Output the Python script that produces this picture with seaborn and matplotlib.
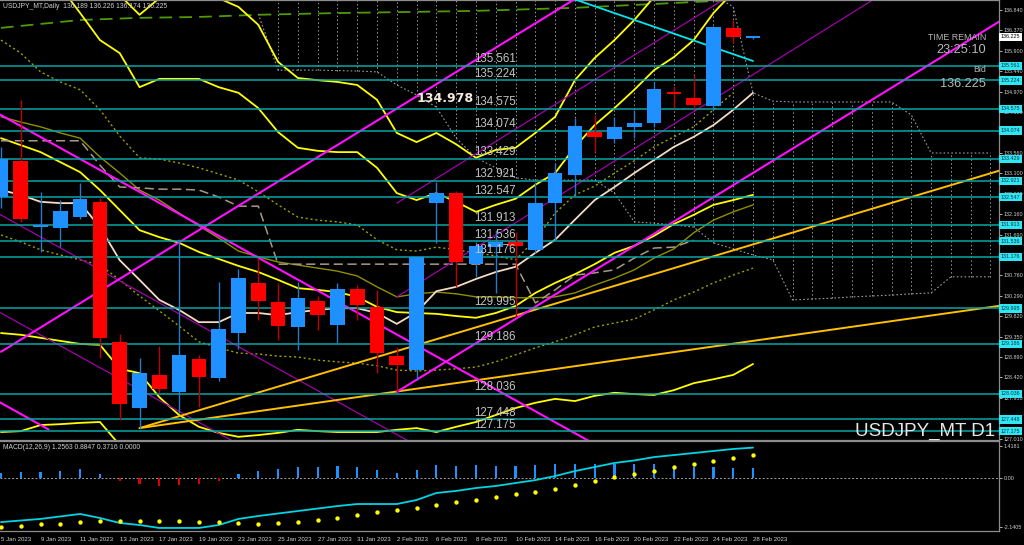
import matplotlib
matplotlib.use("Agg")
import matplotlib.pyplot as plt
import matplotlib.transforms as mtransforms
import seaborn as sns

# ---------------- data ----------------
dates = ["5 Jan 2023", "6 Jan 2023", "9 Jan 2023", "10 Jan 2023", "11 Jan 2023", "12 Jan 2023",
         "13 Jan 2023", "16 Jan 2023", "17 Jan 2023", "18 Jan 2023", "19 Jan 2023", "20 Jan 2023",
         "23 Jan 2023", "24 Jan 2023", "25 Jan 2023", "26 Jan 2023", "27 Jan 2023", "30 Jan 2023",
         "31 Jan 2023", "1 Feb 2023", "2 Feb 2023", "3 Feb 2023", "6 Feb 2023", "7 Feb 2023",
         "8 Feb 2023", "9 Feb 2023", "10 Feb 2023", "13 Feb 2023", "14 Feb 2023", "15 Feb 2023",
         "16 Feb 2023", "17 Feb 2023", "20 Feb 2023", "21 Feb 2023", "22 Feb 2023", "23 Feb 2023",
         "24 Feb 2023", "27 Feb 2023", "28 Feb 2023"]

opens = [132.55, 133.38, 131.86, 131.84, 132.09, 132.44, 129.23, 127.71, 128.47, 128.08, 128.84, 128.40,
         129.43, 130.58, 130.14, 129.57, 130.17, 129.62, 130.44, 130.03, 128.90, 128.58, 132.41, 132.64,
         131.01, 131.40, 131.52, 131.33, 132.41, 133.06, 134.04, 133.88, 134.16, 134.25, 134.94, 134.82,
         134.64, 136.43, 136.189]
highs = [133.70, 134.78, 132.67, 132.48, 132.87, 132.53, 129.41, 128.86, 129.13, 131.59, 128.92, 130.60,
         130.90, 131.15, 130.58, 130.60, 130.28, 130.58, 130.53, 130.42, 129.11, 131.20, 132.89, 132.69,
         131.52, 131.79, 131.75, 132.89, 133.33, 134.36, 134.43, 134.39, 134.55, 135.19, 135.10, 135.35,
         136.47, 136.60, 136.226]
lows = [132.30, 131.98, 131.29, 131.40, 132.05, 128.86, 127.44, 127.23, 128.06, 127.60, 127.73, 128.33,
        129.07, 129.73, 129.27, 129.04, 129.50, 129.20, 129.73, 128.51, 128.08, 128.35, 131.50, 130.49,
        130.72, 130.35, 129.80, 131.27, 131.57, 132.55, 133.58, 133.79, 133.90, 134.16, 134.60, 134.58,
        134.55, 136.08, 136.174]
closes = [133.42, 132.05, 131.91, 132.23, 132.50, 129.32, 127.80, 128.51, 128.15, 128.93, 128.42, 129.52,
          130.69, 130.17, 129.59, 130.23, 129.84, 130.44, 130.07, 128.97, 128.70, 131.17, 132.64, 131.06,
          131.43, 131.52, 131.43, 132.41, 133.10, 134.18, 133.93, 134.16, 134.25, 135.03, 134.91, 134.66,
          136.45, 136.23, 136.225]

levels = [135.561, 135.224, 134.575, 134.074, 133.429, 132.921, 132.547, 131.913, 131.536, 131.176,
          129.995, 129.186, 128.036, 127.448, 127.175]

price_ticks = [136.840, 136.370, 135.900, 135.440, 134.970, 134.500, 134.030, 133.560, 133.100, 132.630,
               132.160, 131.690, 131.220, 130.760, 130.290, 129.820, 129.350, 128.890, 128.420, 127.950,
               127.480, 127.010]
# tick labels that sit under a level box in the reference
hidden_ticks = [134.030, 131.220, 127.480]

# indicator lines (values per bar)
band_outer_up_start = 6
band_outer_up = [137.18, 136.73, 137.11, 137.30, 137.25, 137.11, 136.91, 136.50, 135.65, 135.28, 135.23,
                 135.19, 135.12, 134.78, 134.02, 133.81, 134.02, 133.76, 133.45, 133.63, 133.68, 134.02,
                 134.39, 135.23, 135.74, 136.15, 136.61, 137.14]
band_inner_up_start = 3
band_inner_up = [137.37, 136.77, 136.15, 135.85, 135.07, 135.26, 135.26, 135.26, 135.07, 134.94, 134.59,
                 134.04, 133.68, 133.61, 133.58, 133.58, 133.22, 132.64, 132.48, 132.64, 132.44, 132.21,
                 132.37, 132.51, 132.83, 133.10, 133.70, 134.20, 134.59, 135.01, 135.46, 135.76, 136.15,
                 136.77, 137.25]
slow_ma = [133.90, 133.74, 133.58, 133.35, 133.12, 132.71, 132.25, 131.79, 131.63, 131.50, 131.29, 131.13,
           130.97, 130.83, 130.65, 130.46, 130.42, 130.37, 130.26, 130.03, 129.91, 129.89, 129.87, 129.82,
           129.78, 129.89, 130.05, 130.35, 130.58, 130.78, 131.01, 131.27, 131.43, 131.66, 131.93, 132.14,
           132.37, 132.48, 132.60]
band_low = [129.43, 129.39, 129.32, 129.25, 129.18, 129.16, 128.61, 128.51, 127.96, 127.55, 127.28, 127.14,
            127.05, 127.09, 127.14, 127.21, 127.18, 127.16, 127.16, 127.16, 127.21, 127.25, 127.16, 127.28,
            127.39, 127.55, 127.71, 127.83, 127.92, 127.87, 127.99, 128.06, 128.03, 128.01, 128.12, 128.28,
            128.37, 128.47, 128.72]
band_low2 = [127.16, 127.18, 127.32, 127.34, 127.37, 127.39, 126.86]
fast_ma = [132.71, 132.60, 132.44, 132.41, 132.41, 131.86, 131.10, 130.65, 130.19, 129.96, 129.68, 129.68,
           129.89, 129.89, 129.84, 129.91, 129.96, 130.00, 130.00, 129.89, 129.64, 129.91, 130.39, 130.49,
           130.67, 130.83, 130.95, 131.27, 131.57, 132.03, 132.48, 132.78, 133.10, 133.40, 133.70, 133.93,
           134.20, 134.55, 134.94]
olive_ma = [134.39, 134.27, 134.16, 134.02, 133.90, 133.47, 133.10, 132.71, 132.48, 132.18, 131.89, 131.61,
            131.31, 131.18, 131.06, 130.99, 130.92, 130.85, 130.74, 130.49, 130.26, 130.33, 130.37, 130.33,
            130.26, 130.26, 130.24, 130.24, 130.26, 130.35, 130.53, 130.69, 130.88, 131.15, 131.36, 131.73,
            132.02, 132.21, 132.37]
kijun = [133.84, 133.84, 133.84, 133.84, 133.84, 133.28, 132.78, 132.76, 132.73, 132.73, 132.71, 132.55,
         132.34, 132.34, 131.01, 131.01, 131.01, 131.01, 131.01, 131.01, 131.01, 131.01, 131.01, 131.01,
         131.01, 131.01, 131.01, 130.12, 130.42, 130.76, 130.81, 130.88, 131.15, 131.38, 131.40, 131.56]
dot_upper = [136.15, 135.85, 135.42, 135.19, 135.01, 134.55, 133.95, 133.45, 133.42, 133.33, 133.22, 133.08,
             132.94, 132.67, 132.37, 132.09, 132.02, 131.98, 131.91, 131.57, 131.34, 131.31, 131.40, 131.34,
             131.27, 131.20, 131.11, 131.57, 132.18, 132.60, 132.80, 133.10, 133.38, 133.70, 133.93, 134.16,
             134.55, 134.94]
dot_lower = [131.68, 131.52, 131.34, 131.22, 131.11, 130.99, 130.65, 130.28, 129.94, 129.59, 129.23, 129.09,
             128.97, 128.95, 128.90, 128.88, 128.81, 128.77, 128.74, 128.68, 128.58, 128.56, 128.58, 128.61,
             128.65, 128.77, 128.93, 129.09, 129.23, 129.39, 129.57, 129.66, 129.75, 129.96, 130.19, 130.37,
             130.58, 130.76, 130.92]
green_x = [0, 4, 7, 10, 13, 17, 20, 24, 29, 34, 38, 51]
green_y = [136.43, 136.61, 136.66, 136.68, 136.73, 136.77, 136.79, 136.82, 136.89, 137.00, 137.09, 137.25]

# ichimoku cloud (bar 14 .. 50, extends into the future)
cloud_start = 14
cloud_top = [137.6] * 22 + [137.18, 136.91, 134.94, 134.75, 134.73, 134.73, 134.73, 134.73, 134.73, 134.73,
                            134.43, 133.56, 133.56, 133.56, 133.56]
cloud_bottom = [135.46, 135.46, 135.46, 135.45, 135.44, 135.42, 135.12, 134.89, 134.61, 133.90, 133.45,
                133.22, 132.99, 132.94, 132.94, 132.94, 132.94, 132.64, 131.98, 131.95, 131.91, 131.86,
                131.50, 131.36, 131.22, 131.11, 130.19, 130.21, 130.23, 130.26, 130.28, 130.30, 130.33,
                130.35, 130.72, 130.72, 130.72]

# trend lines (two anchor points each: bar index, price)
magenta_thick = [([0, 30], [129.00, 137.37]), ([-1, 31], [134.68, 126.63]),
                 ([20, 51], [128.08, 136.73]), ([-1, 2.4], [128.08, 127.22])]
purple_thin = [([-1, 21], [132.39, 126.85]), ([-1, 12], [130.14, 126.88]),
               ([20, 37], [132.41, 137.22]), ([20, 45], [130.26, 137.34])]
gold_lines = [([7, 51], [127.25, 133.23]), ([7, 51], [127.25, 130.09])]
cyan_line = ([28, 38], [137.24, 135.67])

# MACD panel
macd_hist = [0.25, 0.28, 0.28, 0.34, 0.41, 0.19, -0.12, -0.25, -0.35, -0.30, -0.25, -0.12, 0.18, 0.32, 0.40,
             0.49, 0.52, 0.54, 0.52, 0.37, 0.25, 0.37, 0.59, 0.56, 0.59, 0.56, 0.54, 0.60, 0.65, 0.65, 0.65,
             0.65, 0.62, 0.62, 0.56, 0.52, 0.49, 0.45, 0.45]
macd_line = [-1.94, -1.87, -1.80, -1.69, -1.58, -1.76, -1.98, -2.07, -2.20, -2.20, -2.20, -2.07, -1.80, -1.67,
             -1.56, -1.45, -1.34, -1.23, -1.14, -1.14, -1.14, -0.96, -0.65, -0.56, -0.43, -0.34, -0.21, -0.08,
             0.10, 0.32, 0.50, 0.68, 0.79, 0.94, 1.03, 1.12, 1.21, 1.30, 1.36]
macd_signal = [-2.14, -2.10, -2.04, -2.01, -1.95, -1.89, -1.88, -1.88, -1.88, -1.89, -1.92, -1.95, -1.98,
               -2.01, -1.98, -1.92, -1.85, -1.75, -1.63, -1.49, -1.40, -1.30, -1.18, -1.06, -0.95, -0.84,
               -0.71, -0.59, -0.46, -0.30, -0.12, 0.04, 0.18, 0.34, 0.49, 0.62, 0.75, 0.90, 1.03]
macd_ticks = [1.4181, 0.0, -2.1405]
macd_tick_labels = ["1.4181", "0.00", "-2.1405"]

title_text = "USDJPY_MT,Daily  136.189 136.226 136.174 136.225"
macd_text = "MACD(12,26,9) 1.2563 0.8847 0.3716 0.0000"
bid_price = 136.225

# ---------------- style ----------------
sns.set_theme(style="dark")
plt.rcParams['font.family'] = ['Liberation Sans', 'DejaVu Sans']
plt.rcParams['axes.facecolor'] = 'black'
plt.rcParams['figure.facecolor'] = 'black'
plt.rcParams['patch.edgecolor'] = 'none'

BLUE = '#1e90ff'
RED = '#ff0000'
GRAY = '#8c8c8c'
TXT = '#d0d0d0'

fig = plt.figure(figsize=(10.24, 5.45), dpi=100)
fig.patch.set_facecolor('black')
ax = fig.add_axes([0, 1 - 440 / 545, 999 / 1024, 440 / 545])
axm = fig.add_axes([0, 1 - 531 / 545, 999 / 1024, 90 / 545], sharex=ax)
for a in (ax, axm):
    a.set_facecolor('black')
    a.grid(False)
    for s in a.spines.values():
        s.set_color(GRAY)
        s.set_linewidth(0.9)
    a.spines['left'].set_visible(False)

n = len(dates)
idx = list(range(n))


def draw(a, x, y, **kw):
    sns.lineplot(x=x, y=y, ax=a, estimator=None, sort=False, legend=False, **kw)


# ichimoku cloud hatch
cidx = list(range(cloud_start, cloud_start + len(cloud_top)))
for i, t, b in zip(cidx, cloud_top, cloud_bottom):
    ax.vlines(i, b, t, color='#9a9a9a', lw=0.7, linestyles=(0, (1.5, 2.5)), zorder=1)
draw(ax, [13] + cidx, [136.75] + cloud_bottom, color='#9a9a9a', lw=0.8, linestyle=(0, (1.5, 2)), zorder=1)
draw(ax, cidx, cloud_top, color='#9a9a9a', lw=0.8, linestyle=(0, (1.5, 2)), zorder=1)

# indicator lines
draw(ax, green_x, green_y, color='#4e9a06', lw=1.3, linestyle=(0, (7, 4)), zorder=2)
draw(ax, list(range(band_outer_up_start, band_outer_up_start + len(band_outer_up))), band_outer_up,
     color='#ffff00', lw=1.3, zorder=2)
draw(ax, list(range(band_inner_up_start, band_inner_up_start + len(band_inner_up))), band_inner_up,
     color='#ffff00', lw=1.3, zorder=2)
draw(ax, idx, slow_ma, color='#ffff00', lw=1.3, zorder=2)
draw(ax, idx, band_low, color='#ffff00', lw=1.3, zorder=2)
draw(ax, list(range(len(band_low2))), band_low2, color='#ffff00', lw=1.3, zorder=2)
draw(ax, idx, olive_ma, color='#8f8f00', lw=1.0, zorder=2)
draw(ax, list(range(len(kijun))), kijun, color='#a89888', lw=1.1, linestyle=(0, (6, 3)), zorder=2)
draw(ax, list(range(len(dot_upper))), dot_upper, color='#a0a000', lw=1.0, linestyle=(0, (1.5, 2)), zorder=2)
draw(ax, idx, dot_lower, color='#a0a000', lw=1.0, linestyle=(0, (1.5, 2)), zorder=2)
draw(ax, idx, fast_ma, color='#f2dcc4', lw=1.3, zorder=3)

for xs, ys in purple_thin:
    draw(ax, xs, ys, color='#a000a8', lw=0.9, zorder=2)
for xs, ys in gold_lines:
    draw(ax, xs, ys, color='#ffc000', lw=1.4, zorder=2)
for xs, ys in magenta_thick:
    draw(ax, xs, ys, color='#ff10ff', lw=1.5, zorder=3)
draw(ax, cyan_line[0], cyan_line[1], color='#00e8f0', lw=1.3, zorder=3)

# horizontal levels and their labels
for lv in levels:
    ax.axhline(lv, color='#0aa5a5', lw=1.1, zorder=3)
    ax.text(26.0, lv + 0.01, f"{lv:.3f}", color='#c4c4c4', fontsize=8.3, ha='right', va='bottom', zorder=6)

# candles
for i, (o, h, l, c) in enumerate(zip(opens, highs, lows, closes)):
    up = c >= o
    ax.vlines(i, l, h, color='#2a78c8' if up else '#c00000', lw=1.0, zorder=4)
    ax.bar(i, max(abs(c - o), 0.045), bottom=min(o, c), width=0.74,
           color=BLUE if up else RED, linewidth=0, edgecolor='none', zorder=5)

# annotations
ax.text(21.0, 134.82, "134.978", color='#f5ebdc', fontsize=9.1, fontweight='bold',
        family='DejaVu Sans', ha='left', va='center', zorder=7)
ax.text(0.003, 0.986, title_text, transform=ax.transAxes, color=TXT, fontsize=4.9, ha='left', va='center')
ax.text(0.987, 1 - 37.5 / 440, "TIME REMAIN", transform=ax.transAxes, color='#b8b8b8', fontsize=6.4,
        ha='right', va='center')
ax.text(0.987, 1 - 50 / 440, "23:25:10", transform=ax.transAxes, color='#b8b8b8', fontsize=9.2,
        ha='right', va='center')
ax.text(0.987, 1 - 69 / 440, "Bid", transform=ax.transAxes, color='#b8b8b8', fontsize=6.4,
        ha='right', va='center')
ax.text(0.987, 1 - 84 / 440, f"{bid_price:.3f}", transform=ax.transAxes, color='#b8b8b8', fontsize=9.2,
        ha='right', va='center')
ax.text(0.996, 1 - 436 / 440, "USDJPY_MT D1", transform=ax.transAxes, color='#e6e6e6', fontsize=13.5,
        ha='right', va='baseline')

# axes ranges
ax.set_xlim(-1 / 19.79, 998 / 19.79)
ax.set_ylim(126.977, 137.069)
ax.set_xlabel("")
ax.set_ylabel("")
ax.yaxis.tick_right()
ax.set_yticks(price_ticks)
ax.set_yticklabels(["" if t in hidden_ticks else f"{t:.3f}" for t in price_ticks])
ax.tick_params(axis='y', colors=TXT, labelsize=3.9, length=2, width=0.6, pad=1.5, direction='out')
ax.tick_params(axis='x', bottom=False, labelbottom=False)

# right axis label boxes
trans = mtransforms.blended_transform_factory(ax.transAxes, ax.transData)
for lv in levels:
    ax.text(1.002, lv, f"{lv:.3f}", transform=trans, color='#003848', fontsize=3.9, ha='left', va='center',
            bbox=dict(boxstyle='square,pad=0.3', fc='#30e6f2', ec='none'), clip_on=False, zorder=10)
ax.text(1.002, bid_price, f"{bid_price:.3f}", transform=trans, color='#000000', fontsize=3.9, ha='left',
        va='center', bbox=dict(boxstyle='square,pad=0.3', fc='#ffffff', ec='none'), clip_on=False, zorder=10)

# MACD panel
axm.axhline(0, color='#a0a0a0', lw=0.7, linestyle=(0, (2, 2)), zorder=1)
axm.bar(idx, macd_hist, width=0.11, color=[BLUE if v >= 0 else '#e00000' for v in macd_hist],
        linewidth=0, edgecolor='none', zorder=2)
draw(axm, idx, macd_line, color='#00d4e4', lw=1.3, zorder=3)
sns.scatterplot(x=idx, y=macd_signal, ax=axm, color='#ffff00', s=10, linewidth=0, legend=False, zorder=4)
axm.text(0.003, 0.93, macd_text, transform=axm.transAxes, color=TXT, fontsize=4.9, ha='left', va='center')
axm.set_ylim(-2.335, 1.653)
axm.set_xlabel("")
axm.set_ylabel("")
axm.yaxis.tick_right()
axm.set_yticks(macd_ticks)
axm.set_yticklabels(macd_tick_labels)
axm.tick_params(axis='y', colors=TXT, labelsize=3.9, length=2, width=0.6, pad=1.5)
tick_pos = idx[::2]
axm.set_xticks(tick_pos)
axm.set_xticklabels([dates[i] for i in tick_pos])
axm.tick_params(axis='x', colors=TXT, labelsize=4.4, length=2.5, width=0.6, pad=1.5, direction='out')
for lbl in axm.get_xticklabels():
    lbl.set_ha('left')
ax.set_xlim(-1 / 19.79, 998 / 19.79)

fig.savefig('out.png', dpi=100, facecolor='black')
